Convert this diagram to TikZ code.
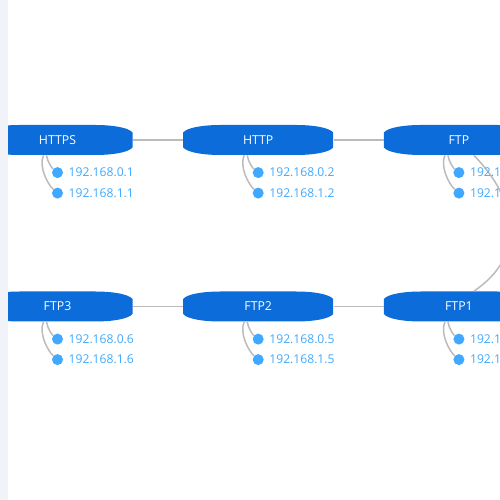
\documentclass[tikz,border=0pt]{standalone}
\usepackage{fontspec}
\setmainfont{Open Sans}
\usetikzlibrary{positioning,backgrounds}
\definecolor{NodeBlue}{HTML}{0B6CDA}
\definecolor{LeafBlue}{HTML}{40A9FF}
\definecolor{LineGrey}{HTML}{BBBBBB}
\definecolor{SideGrey}{HTML}{F2F3F9}

\begin{document}
\begin{tikzpicture}[
  node distance=1cm and 1cm,
  server/.style={minimum width=3cm, minimum height=0.6cm, inner sep=0pt, text=white, font=\fontsize{7pt}{8pt}\selectfont},
  dot/.style={circle, fill=LeafBlue, minimum size=0.22cm, inner sep=0pt},
  addr/.style={text=LeafBlue, inner sep=0pt, font=\fontsize{6.9pt}{8pt}\selectfont},
  wire/.style={draw=LineGrey, line width=0.85pt}
]
  \useasboundingbox (0,0) rectangle (10,10);

  \node[server] (https) at (1.15,7.2) {HTTPS};
  \node[server, right=of https] (http) {HTTP};
  \node[server, right=of http] (ftp) {FTP};
  \node[server] (ftpc) at (1.15,3.87) {FTP3};
  \node[server, right=of ftpc] (ftpb) {FTP2};
  \node[server, right=of ftpb] (ftpa) {FTP1};

  \draw[wire] (https) -- (http);
  \draw[wire] (http) -- (ftp);
  \draw[wire] (ftpc) -- (ftpb);
  \draw[wire] (ftpb) -- (ftpa);
  \draw[wire] ([xshift=0.3cm]ftp.south) .. controls (10.35,6) and (10.55,4.9) .. ([xshift=0.3cm]ftpa.north);

  % two addresses hang under every server
  \foreach \srv/\num in {https/1, http/2, ftp/3, ftpa/4, ftpb/5, ftpc/6} {
    \begin{scope}[on background layer]
      \fill[NodeBlue, shift={(\srv.center)}] (-1.5,-0.15) -- (-1.5,0.15)
        .. controls (-1.42,0.25) and (-1.1,0.3) .. (-0.75,0.3) -- (0.75,0.3)
        .. controls (1.1,0.3) and (1.42,0.25) .. (1.5,0.15) -- (1.5,-0.15)
        .. controls (1.42,-0.25) and (1.1,-0.3) .. (0.75,-0.3) -- (-0.75,-0.3)
        .. controls (-1.1,-0.3) and (-1.42,-0.25) .. (-1.5,-0.15) -- cycle;
    \end{scope}
    \node[dot] (\srv-a) at ([yshift=-0.345cm]\srv.south) {};
    \node[dot] (\srv-b) at ([yshift=-0.755cm]\srv.south) {};
    \node[addr, right=0.1cm of \srv-a] (\srv-atext) {192.168.0.\num};
    \node[addr, right=0.1cm of \srv-b] (\srv-btext) {192.168.1.\num};
    \draw[wire] ([xshift=-0.22cm]\srv.south) .. controls +(0.02,-0.14) and +(-0.1,0.08) .. (\srv-a);
    \draw[wire] ([xshift=-0.28cm]\srv.south) .. controls +(-0.1,-0.22) and +(-0.2,0.18) .. (\srv-b);
  }

  \fill[SideGrey] (0,0) rectangle (0.16,10);
\end{tikzpicture}
\end{document}
